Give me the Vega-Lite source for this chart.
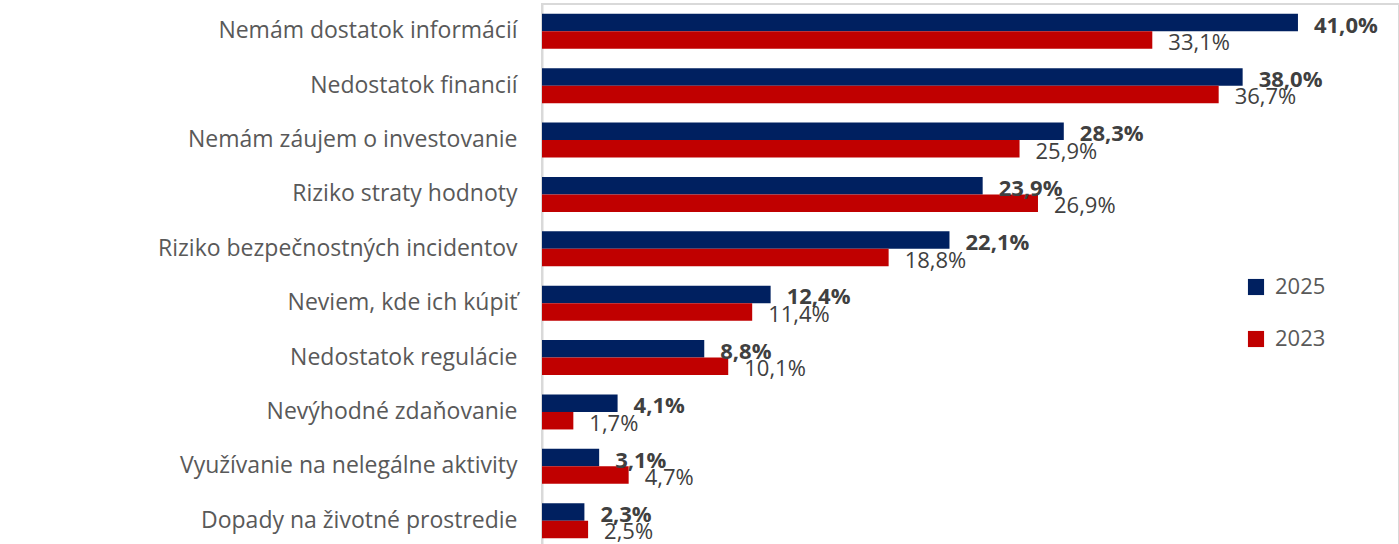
{
  "$schema": "https://vega.github.io/schema/vega-lite/v6.json",
  "autosize": {"type": "none"},
  "padding": {"left": 542, "top": 4, "right": 0, "bottom": 0},
  "width": 857,
  "height": 544,
  "background": "white",
  "config": {
    "locale": {"number": {"decimal": ",", "thousands": " ", "grouping": [3], "currency": ["", " €"]}},
    "view": {"stroke": "#d9d9d9", "strokeWidth": 2},
    "font": "Open Sans"
  },
  "data": {
    "values": [
      {"kategoria": "Nemám dostatok informácií", "rok": "2025", "podiel": 0.410},
      {"kategoria": "Nemám dostatok informácií", "rok": "2023", "podiel": 0.331},
      {"kategoria": "Nedostatok financií", "rok": "2025", "podiel": 0.380},
      {"kategoria": "Nedostatok financií", "rok": "2023", "podiel": 0.367},
      {"kategoria": "Nemám záujem o investovanie", "rok": "2025", "podiel": 0.283},
      {"kategoria": "Nemám záujem o investovanie", "rok": "2023", "podiel": 0.259},
      {"kategoria": "Riziko straty hodnoty", "rok": "2025", "podiel": 0.239},
      {"kategoria": "Riziko straty hodnoty", "rok": "2023", "podiel": 0.269},
      {"kategoria": "Riziko bezpečnostných incidentov", "rok": "2025", "podiel": 0.221},
      {"kategoria": "Riziko bezpečnostných incidentov", "rok": "2023", "podiel": 0.188},
      {"kategoria": "Neviem, kde ich kúpiť", "rok": "2025", "podiel": 0.124},
      {"kategoria": "Neviem, kde ich kúpiť", "rok": "2023", "podiel": 0.114},
      {"kategoria": "Nedostatok regulácie", "rok": "2025", "podiel": 0.088},
      {"kategoria": "Nedostatok regulácie", "rok": "2023", "podiel": 0.101},
      {"kategoria": "Nevýhodné zdaňovanie", "rok": "2025", "podiel": 0.041},
      {"kategoria": "Nevýhodné zdaňovanie", "rok": "2023", "podiel": 0.017},
      {"kategoria": "Využívanie na nelegálne aktivity", "rok": "2025", "podiel": 0.031},
      {"kategoria": "Využívanie na nelegálne aktivity", "rok": "2023", "podiel": 0.047},
      {"kategoria": "Dopady na životné prostredie", "rok": "2025", "podiel": 0.023},
      {"kategoria": "Dopady na životné prostredie", "rok": "2023", "podiel": 0.025}
    ]
  },
  "encoding": {
    "y": {
      "field": "kategoria", "type": "nominal", "sort": null,
      "scale": {"paddingInner": 0.357, "paddingOuter": 0.18},
      "axis": {"title": null, "ticks": false, "labelPadding": 25, "labelFontSize": 23, "labelColor": "#595959", "labelFont": "Open Sans", "domainColor": "#d9d9d9", "domainWidth": 2, "labelLimit": 600}
    },
    "yOffset": {"field": "rok", "type": "nominal", "scale": {"domain": ["2025", "2023"]}},
    "x": {"field": "podiel", "type": "quantitative", "scale": {"domain": [0, 0.4648], "nice": false}, "axis": null}
  },
  "layer": [
    {
      "mark": {"type": "bar"},
      "encoding": {
        "color": {
          "field": "rok", "type": "nominal",
          "scale": {"domain": ["2025", "2023"], "range": ["#002060", "#c00000"]},
          "legend": {"title": null, "orient": "none", "legendX": 703, "legendY": 272, "symbolType": "square", "symbolSize": 260, "symbolOpacity": 1, "labelFontSize": 22, "labelColor": "#595959", "labelFont": "Open Sans", "rowPadding": 30, "labelOffset": 8}
        }
      }
    },
    {
      "transform": [{"filter": "datum.rok === '2025'"}],
      "mark": {"type": "text", "align": "left", "baseline": "middle", "dx": 16, "dy": 3, "fontSize": 22, "fontWeight": "bold", "color": "#404040", "font": "Open Sans"},
      "encoding": {"text": {"field": "podiel", "type": "quantitative", "format": ".1%"}}
    },
    {
      "transform": [{"filter": "datum.rok === '2023'"}],
      "mark": {"type": "text", "align": "left", "baseline": "middle", "dx": 16, "dy": 3, "fontSize": 22, "color": "#404040", "font": "Open Sans"},
      "encoding": {"text": {"field": "podiel", "type": "quantitative", "format": ".1%"}}
    }
  ]
}
